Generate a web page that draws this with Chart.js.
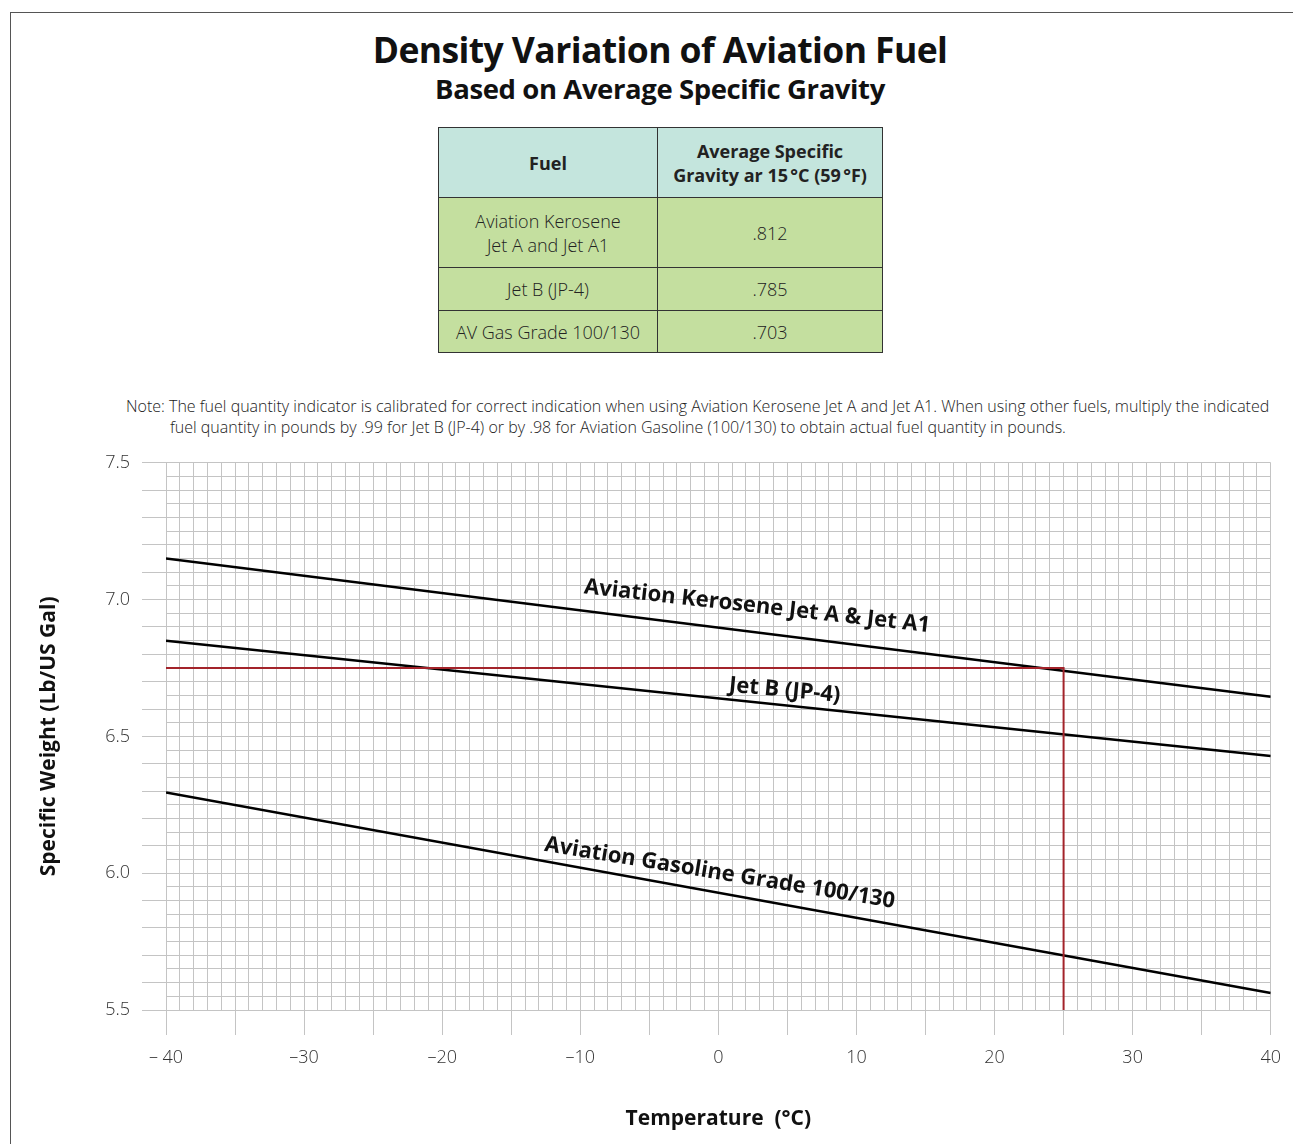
<!DOCTYPE html>
<html>
<head>
<meta charset="utf-8">
<script src="https://cdn.jsdelivr.net/npm/chart.js@4.4.1/dist/chart.umd.min.js"></script>
<style>
  body { margin: 0; background: #fff; font-family: "Open Sans", sans-serif; }
  #page { position: relative; width: 1293px; height: 1144px; overflow: hidden; }
  #frame { position: absolute; left: 10px; top: 12px; width: 1300px; height: 1200px;
           border-top: 1.5px solid #555; border-left: 1.5px solid #555; }
  h1 { position: absolute; top: 25px; left: 0; width: 1320px; margin: 0; text-align: center;
       font-size: 35.5px; font-weight: 700; letter-spacing: -0.6px; color: #111; }
  h2 { position: absolute; top: 70px; left: 0; width: 1320px; margin: 0; text-align: center;
       font-size: 27.5px; font-weight: 700; letter-spacing: -0.4px; color: #111; }
  table { position: absolute; left: 438px; top: 127px; width: 445px; border-collapse: collapse; }
  td, th { border: 1.3px solid #333; text-align: center; font-size: 18px; color: #222; padding: 0; }
  th { background: #c4e5dd; font-weight: 700; height: 69px; line-height: 24px; }
  td { background: #c4df9f; font-weight: 300; line-height: 24px; }
  #note { position: absolute; left: 126px; top: 396px; width: 1170px; font-size: 16px;
          font-weight: 300; color: #222; line-height: 21px; white-space: nowrap; }
  #note .l2 { padding-left: 44px; }
  #chartbox { position: absolute; left: 0; top: 440px; width: 1293px; height: 704px; }
</style>
</head>
<body>
<div id="page">
  <div id="frame"></div>
  <h1>Density Variation of Aviation Fuel</h1>
  <h2>Based on Average Specific Gravity</h2>
  <table id="fuelTable"></table>
  <div id="note">Note: The fuel quantity indicator is calibrated for correct indication when using Aviation Kerosene Jet A and Jet A1. When using other fuels, multiply the indicated<br><span class="l2">fuel quantity in pounds by .99 for Jet B (JP-4) or by .98 for Aviation Gasoline (100/130) to obtain actual fuel quantity in pounds.</span></div>
  <div id="chartbox"><canvas id="chart" width="1293" height="704"></canvas></div>
</div>
<script>
// table content
const fuelNames = ['Aviation Kerosene<br>Jet A and Jet A1', 'Jet B (JP-4)', 'AV Gas Grade 100/130'];
const specificGravity = ['.812', '.785', '.703'];
const rowHeights = [70, 43, 42];

// chart data
const temps = [-40, 40];
const keroseneWeight = [7.15, 6.645];
const jetBWeight = [6.85, 6.428];
const avgasWeight = [6.295, 5.562];
const exampleTemps = [-40, 25, 25];
const exampleWeight = [6.75, 6.75, 5.5];

const lineLabels = ['Aviation Kerosene Jet A & Jet A1', 'Jet B (JP-4)', 'Aviation Gasoline Grade 100/130'];
const labelTemps = [2.8, 4.8, 0.1];
const labelWeights = [6.975, 6.668, 6.0];

// build the table
let html = '<tr><th style="width:218px">Fuel</th><th>Average Specific<br>Gravity ar 15\u202f°C (59\u202f°F)</th></tr>';
for (let i = 0; i < fuelNames.length; i++) {
    html += '<tr style="height:' + rowHeights[i] + 'px"><td>' + fuelNames[i] + '</td><td>' + specificGravity[i] + '</td></tr>';
}
document.getElementById('fuelTable').innerHTML = html;

function toPoints(xs, ys) {
    return xs.map((x, i) => ({ x: x, y: ys[i] }));
}

const seriesList = [keroseneWeight, jetBWeight, avgasWeight];

const lineLabelPlugin = {
    id: 'lineLabels',
    afterDatasetsDraw(chart) {
        const ctx = chart.ctx;
        const xs = chart.scales.x, ys = chart.scales.y;
        ctx.save();
        ctx.font = '700 22px "Open Sans"';
        ctx.fillStyle = '#111';
        ctx.textAlign = 'center';
        ctx.textBaseline = 'middle';
        for (let i = 0; i < lineLabels.length; i++) {
            const s = seriesList[i];
            const dx = xs.getPixelForValue(temps[1]) - xs.getPixelForValue(temps[0]);
            const dy = ys.getPixelForValue(s[1]) - ys.getPixelForValue(s[0]);
            const px = xs.getPixelForValue(labelTemps[i]);
            const py = ys.getPixelForValue(labelWeights[i]);
            ctx.save();
            ctx.translate(px, py);
            ctx.rotate(Math.atan2(dy, dx) * 0.9);
            ctx.fillText(lineLabels[i], 0, 0);
            ctx.restore();
        }
        ctx.restore();
    }
};

const ctx = document.getElementById('chart');

const chart = new Chart(ctx, {
    type: 'scatter',
    data: {
        datasets: [
            { data: toPoints(exampleTemps, exampleWeight), borderColor: '#a3232a', borderWidth: 2 },
            { data: toPoints(temps, keroseneWeight), borderColor: '#000', borderWidth: 2.5 },
            { data: toPoints(temps, jetBWeight), borderColor: '#000', borderWidth: 2.5 },
            { data: toPoints(temps, avgasWeight), borderColor: '#000', borderWidth: 2.5 }
        ].map(d => Object.assign(d, { showLine: true, pointRadius: 0, fill: false, tension: 0 }))
    },
    options: {
        responsive: false,
        maintainAspectRatio: false,
        animation: false,
        layout: { padding: { top: 20, right: 21, left: 0, bottom: 0 } },
        plugins: { legend: { display: false }, tooltip: { enabled: false } },
        scales: {
            x: {
                type: 'linear', min: -40, max: 40,
                afterFit(scale) { scale.height = 134; },
                border: { display: false },
                grid: {
                    color: '#c4c4c4', lineWidth: 1, tickLength: 25,
                    tickColor: c => (Math.round(c.tick.value) % 5 === 0 ? '#c4c4c4' : 'rgba(0,0,0,0)')
                },
                ticks: {
                    stepSize: 1, autoSkip: false, maxRotation: 0, maxTicksLimit: 200, padding: 12,
                    color: '#333', font: { family: 'Open Sans', size: 18, weight: 300 },
                    callback: v => {
                        if (Math.round(v) % 10 !== 0) return '';
                        if (v < 0) return (v === -40 ? '\u2013 ' : '\u2013') + Math.abs(v);
                        return String(v);
                    }
                },
                title: {
                    display: true, text: 'Temperature  (°C)', color: '#111',
                    font: { family: 'Open Sans', size: 21, weight: 700 }, padding: { top: 0, bottom: 12 }
                }
            },
            y: {
                type: 'linear', min: 5.5, max: 7.5,
                afterFit(scale) { scale.width = 166; },
                border: { display: false },
                grid: {
                    color: '#c4c4c4', lineWidth: 1, tickLength: 24,
                    tickColor: c => (Math.round(c.tick.value * 100) % 10 === 0 ? '#c4c4c4' : 'rgba(0,0,0,0)')
                },
                ticks: {
                    stepSize: 0.05, autoSkip: false, maxTicksLimit: 200, padding: 12,
                    color: '#333', font: { family: 'Open Sans', size: 18, weight: 300 },
                    callback: v => (Math.round(v * 100) % 50 === 0 ? v.toFixed(1) : '')
                },
                title: {
                    display: true, text: 'Specific Weight (Lb/US Gal)', color: '#111',
                    font: { family: 'Open Sans', size: 21, weight: 700 }, padding: { top: 36, bottom: 0 }
                }
            }
        }
    },
    plugins: [lineLabelPlugin]
});
</script>
</body>
</html>
